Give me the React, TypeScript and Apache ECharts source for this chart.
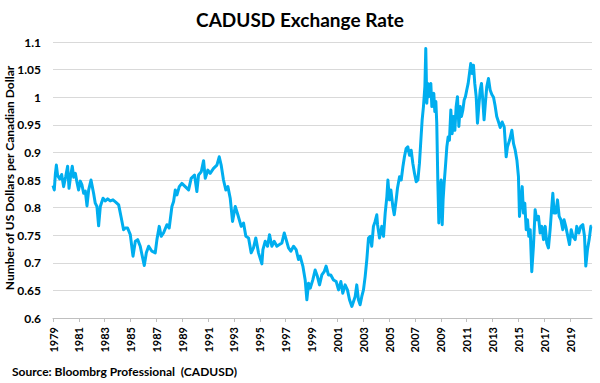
import React, { useEffect, useRef } from "react";
import * as echarts from "echarts";

const chartTitle = "CADUSD Exchange Rate";
const yAxisTitle = "Number of US Dollars per Canadian Dollar";
const sourceNote = "Source: Bloombrg Professional  (CADUSD)";

const xTickYears = [1979, 1981, 1983, 1985, 1987, 1989, 1991, 1993, 1995, 1997, 1999, 2001, 2003, 2005, 2007, 2009, 2011, 2013, 2015, 2017, 2019];
const yMin = 0.6;
const yMax = 1.1;
const yStep = 0.05;

// [decimal year, USD per CAD]
const rates1979to1986: [number, number][] = [
  [1979.0, 0.84], [1979.1, 0.832], [1979.18, 0.86], [1979.26, 0.877], [1979.36, 0.858], [1979.52, 0.852],
  [1979.67, 0.86], [1979.82, 0.838], [1979.98, 0.856], [1980.13, 0.875], [1980.24, 0.835], [1980.37, 0.858],
  [1980.49, 0.875], [1980.6, 0.855], [1980.73, 0.862], [1980.86, 0.845], [1980.98, 0.832], [1981.11, 0.848],
  [1981.24, 0.841], [1981.37, 0.826], [1981.5, 0.83], [1981.63, 0.803], [1981.76, 0.832], [1981.94, 0.85],
  [1982.04, 0.838], [1982.14, 0.826], [1982.27, 0.808], [1982.4, 0.802], [1982.53, 0.767], [1982.66, 0.802],
  [1982.87, 0.817], [1983.05, 0.812], [1983.23, 0.816], [1983.43, 0.812], [1983.64, 0.814], [1983.85, 0.81],
  [1984.08, 0.805], [1984.26, 0.784], [1984.46, 0.76], [1984.59, 0.763], [1984.77, 0.763], [1984.98, 0.751],
  [1985.19, 0.712], [1985.37, 0.739], [1985.55, 0.742], [1985.75, 0.73], [1985.88, 0.715], [1986.06, 0.695],
  [1986.22, 0.718], [1986.4, 0.73], [1986.65, 0.721], [1986.91, 0.718],
];

const rates1987to1995: [number, number][] = [
  [1987.04, 0.742], [1987.22, 0.766], [1987.37, 0.748], [1987.55, 0.754], [1987.81, 0.769], [1987.99, 0.763],
  [1988.2, 0.802], [1988.33, 0.811], [1988.46, 0.832], [1988.59, 0.823], [1988.77, 0.838], [1988.97, 0.844],
  [1989.23, 0.838], [1989.49, 0.832], [1989.69, 0.853], [1989.95, 0.859], [1990.13, 0.829], [1990.26, 0.859],
  [1990.47, 0.865], [1990.65, 0.885], [1990.78, 0.853], [1990.98, 0.868], [1991.16, 0.862], [1991.42, 0.871],
  [1991.68, 0.877], [1991.86, 0.892], [1992.01, 0.877], [1992.19, 0.85], [1992.37, 0.832], [1992.53, 0.838],
  [1992.71, 0.817], [1992.89, 0.775], [1993.1, 0.802], [1993.3, 0.787], [1993.56, 0.766], [1993.74, 0.772],
  [1993.92, 0.748], [1994.13, 0.745], [1994.33, 0.718], [1994.51, 0.727], [1994.69, 0.745], [1994.9, 0.718],
  [1995.16, 0.698],
];

const rates1995to2004: [number, number][] = [
  [1995.24, 0.724], [1995.42, 0.739], [1995.6, 0.73], [1995.75, 0.751], [1995.93, 0.73], [1996.11, 0.739],
  [1996.32, 0.73], [1996.52, 0.733], [1996.71, 0.736], [1996.89, 0.754], [1997.04, 0.742], [1997.22, 0.727],
  [1997.4, 0.721], [1997.61, 0.73], [1997.81, 0.724], [1997.99, 0.706], [1998.12, 0.712], [1998.33, 0.694],
  [1998.51, 0.669], [1998.64, 0.633], [1998.77, 0.663], [1998.9, 0.654], [1999.1, 0.669], [1999.28, 0.687],
  [1999.46, 0.675], [1999.62, 0.66], [1999.8, 0.678], [1999.98, 0.684], [2000.13, 0.694], [2000.31, 0.678],
  [2000.49, 0.678], [2000.7, 0.669], [2000.91, 0.666], [2001.09, 0.651], [2001.27, 0.666], [2001.42, 0.645],
  [2001.6, 0.66], [2001.78, 0.651], [2001.94, 0.633], [2002.12, 0.621], [2002.25, 0.63], [2002.38, 0.639],
  [2002.5, 0.66], [2002.63, 0.633], [2002.76, 0.624], [2002.89, 0.639], [2003.02, 0.651], [2003.15, 0.675],
  [2003.28, 0.706], [2003.41, 0.745], [2003.54, 0.748], [2003.66, 0.73], [2003.79, 0.766], [2003.92, 0.775],
  [2004.05, 0.787],
];

const rates2004to2012: [number, number][] = [
  [2004.11, 0.769], [2004.26, 0.745], [2004.44, 0.766], [2004.57, 0.748], [2004.7, 0.79], [2004.83, 0.82],
  [2004.91, 0.85], [2005.03, 0.814], [2005.14, 0.832], [2005.29, 0.802], [2005.4, 0.787], [2005.55, 0.814],
  [2005.65, 0.835], [2005.81, 0.856], [2005.94, 0.85], [2006.07, 0.874], [2006.19, 0.892], [2006.32, 0.907],
  [2006.45, 0.91], [2006.58, 0.895], [2006.71, 0.904], [2006.84, 0.88], [2006.97, 0.862], [2007.1, 0.847],
  [2007.23, 0.85], [2007.35, 0.88], [2007.46, 0.922], [2007.56, 0.959], [2007.66, 0.983], [2007.77, 1.019],
  [2007.84, 1.088], [2007.92, 0.989], [2008.0, 1.025], [2008.08, 1.001], [2008.15, 1.007], [2008.23, 1.025],
  [2008.31, 0.983], [2008.39, 1.001], [2008.46, 1.007], [2008.54, 0.974], [2008.62, 0.992], [2008.69, 0.953],
  [2008.77, 0.85], [2008.85, 0.772], [2008.95, 0.838], [2009.03, 0.85], [2009.11, 0.769], [2009.18, 0.814],
  [2009.26, 0.844], [2009.36, 0.874], [2009.47, 0.91], [2009.57, 0.928], [2009.67, 0.922], [2009.78, 0.977],
  [2009.88, 0.934], [2009.98, 0.965], [2010.09, 0.94], [2010.19, 0.983], [2010.29, 1.001], [2010.4, 0.947],
  [2010.5, 0.983], [2010.6, 0.965], [2010.71, 0.977], [2010.81, 0.995], [2010.91, 1.001], [2011.01, 1.013],
  [2011.12, 1.025], [2011.22, 1.043], [2011.32, 1.061], [2011.43, 1.043], [2011.53, 1.058], [2011.63, 1.025],
  [2011.74, 1.001], [2011.84, 0.953], [2011.94, 0.983], [2012.05, 1.013], [2012.15, 1.025], [2012.25, 0.995],
  [2012.35, 0.959], [2012.46, 0.992], [2012.56, 1.019], [2012.69, 1.034], [2012.82, 1.013],
];

const rates2013to2020: [number, number][] = [
  [2012.95, 1.005], [2013.08, 1.0], [2013.2, 0.985], [2013.33, 0.965], [2013.47, 0.955], [2013.6, 0.945],
  [2013.75, 0.955], [2013.91, 0.946], [2014.06, 0.892], [2014.16, 0.91], [2014.32, 0.922], [2014.5, 0.94],
  [2014.63, 0.916], [2014.76, 0.904], [2014.89, 0.886], [2015.01, 0.856], [2015.09, 0.784], [2015.19, 0.808],
  [2015.3, 0.838], [2015.4, 0.79], [2015.5, 0.808], [2015.61, 0.76], [2015.71, 0.778], [2015.81, 0.748],
  [2015.92, 0.76], [2016.04, 0.684], [2016.17, 0.73], [2016.3, 0.796], [2016.43, 0.778], [2016.56, 0.784],
  [2016.69, 0.754], [2016.82, 0.766], [2016.95, 0.742], [2017.08, 0.766], [2017.2, 0.736], [2017.33, 0.727],
  [2017.46, 0.76], [2017.59, 0.802], [2017.67, 0.826], [2017.77, 0.79], [2017.9, 0.79], [2018.03, 0.814],
  [2018.16, 0.784], [2018.29, 0.778], [2018.44, 0.76], [2018.54, 0.778], [2018.67, 0.766], [2018.8, 0.751],
  [2018.96, 0.733], [2019.09, 0.76], [2019.22, 0.748], [2019.4, 0.742], [2019.52, 0.766], [2019.68, 0.754],
  [2019.83, 0.766], [2019.99, 0.769], [2020.12, 0.748], [2020.22, 0.694], [2020.35, 0.724], [2020.48, 0.742],
  [2020.61, 0.766], [2020.68, 0.766],
];

export default function App() {
  const ref = useRef<HTMLDivElement>(null);

  useEffect(() => {
    document.body.style.margin = "0";
    if (!ref.current) return;
    const chart = echarts.init(ref.current, undefined, { renderer: "svg" });
    const data = [
      ...rates1979to1986,
      ...rates1987to1995,
      ...rates1995to2004,
      ...rates2004to2012,
      ...rates2013to2020,
    ];
    const font = "Lato, 'Open Sans', sans-serif";
    chart.setOption({
      animation: false,
      title: {
        text: chartTitle,
        left: "center",
        top: 5,
        textStyle: { fontFamily: font, fontWeight: "bold", fontSize: 19, color: "#000" },
      },
      grid: { left: 53, right: 8, top: 42, bottom: 65, containLabel: false },
      xAxis: {
        type: "value",
        min: 1979,
        max: 2020.7,
        splitLine: { show: false },
        axisLine: { show: true, lineStyle: { color: "#BFBFBF", width: 1 } },
        axisTick: { show: true, customValues: xTickYears, length: 4, lineStyle: { color: "#BFBFBF" } },
        axisLabel: {
          customValues: xTickYears,
          rotate: 90,
          margin: 9,
          fontFamily: font,
          fontWeight: "bold",
          fontSize: 11,
          color: "#000",
          formatter: (v: number) => String(Math.round(v)),
        },
      },
      yAxis: {
        type: "value",
        min: yMin,
        max: yMax,
        interval: yStep,
        axisLine: { show: false },
        axisTick: { show: false },
        splitLine: { lineStyle: { color: "#D9D9D9", width: 1 } },
        axisLabel: {
          margin: 12,
          fontFamily: font,
          fontWeight: "bold",
          fontSize: 12,
          color: "#000",
          formatter: (v: number) => String(parseFloat(v.toFixed(2))),
        },
      },
      series: [
        {
          type: "line",
          data,
          showSymbol: false,
          smooth: false,
          lineStyle: { width: 3, color: "#00AEEF", join: "round" },
          itemStyle: { color: "#00AEEF" },
        },
      ],
      graphic: [
        {
          type: "text",
          x: 9,
          y: 178,
          rotation: Math.PI / 2,
          style: {
            text: yAxisTitle,
            align: "center",
            verticalAlign: "middle",
            font: `bold 12px ${font}`,
            fill: "#000",
          },
        },
        {
          type: "text",
          x: 12,
          y: 371,
          style: {
            text: sourceNote,
            align: "left",
            verticalAlign: "middle",
            font: `bold 12px ${font}`,
            fill: "#000",
          },
        },
      ],
    });
    return () => chart.dispose();
  }, []);

  return <div ref={ref} style={{ width: 600, height: 383 }} />;
}
